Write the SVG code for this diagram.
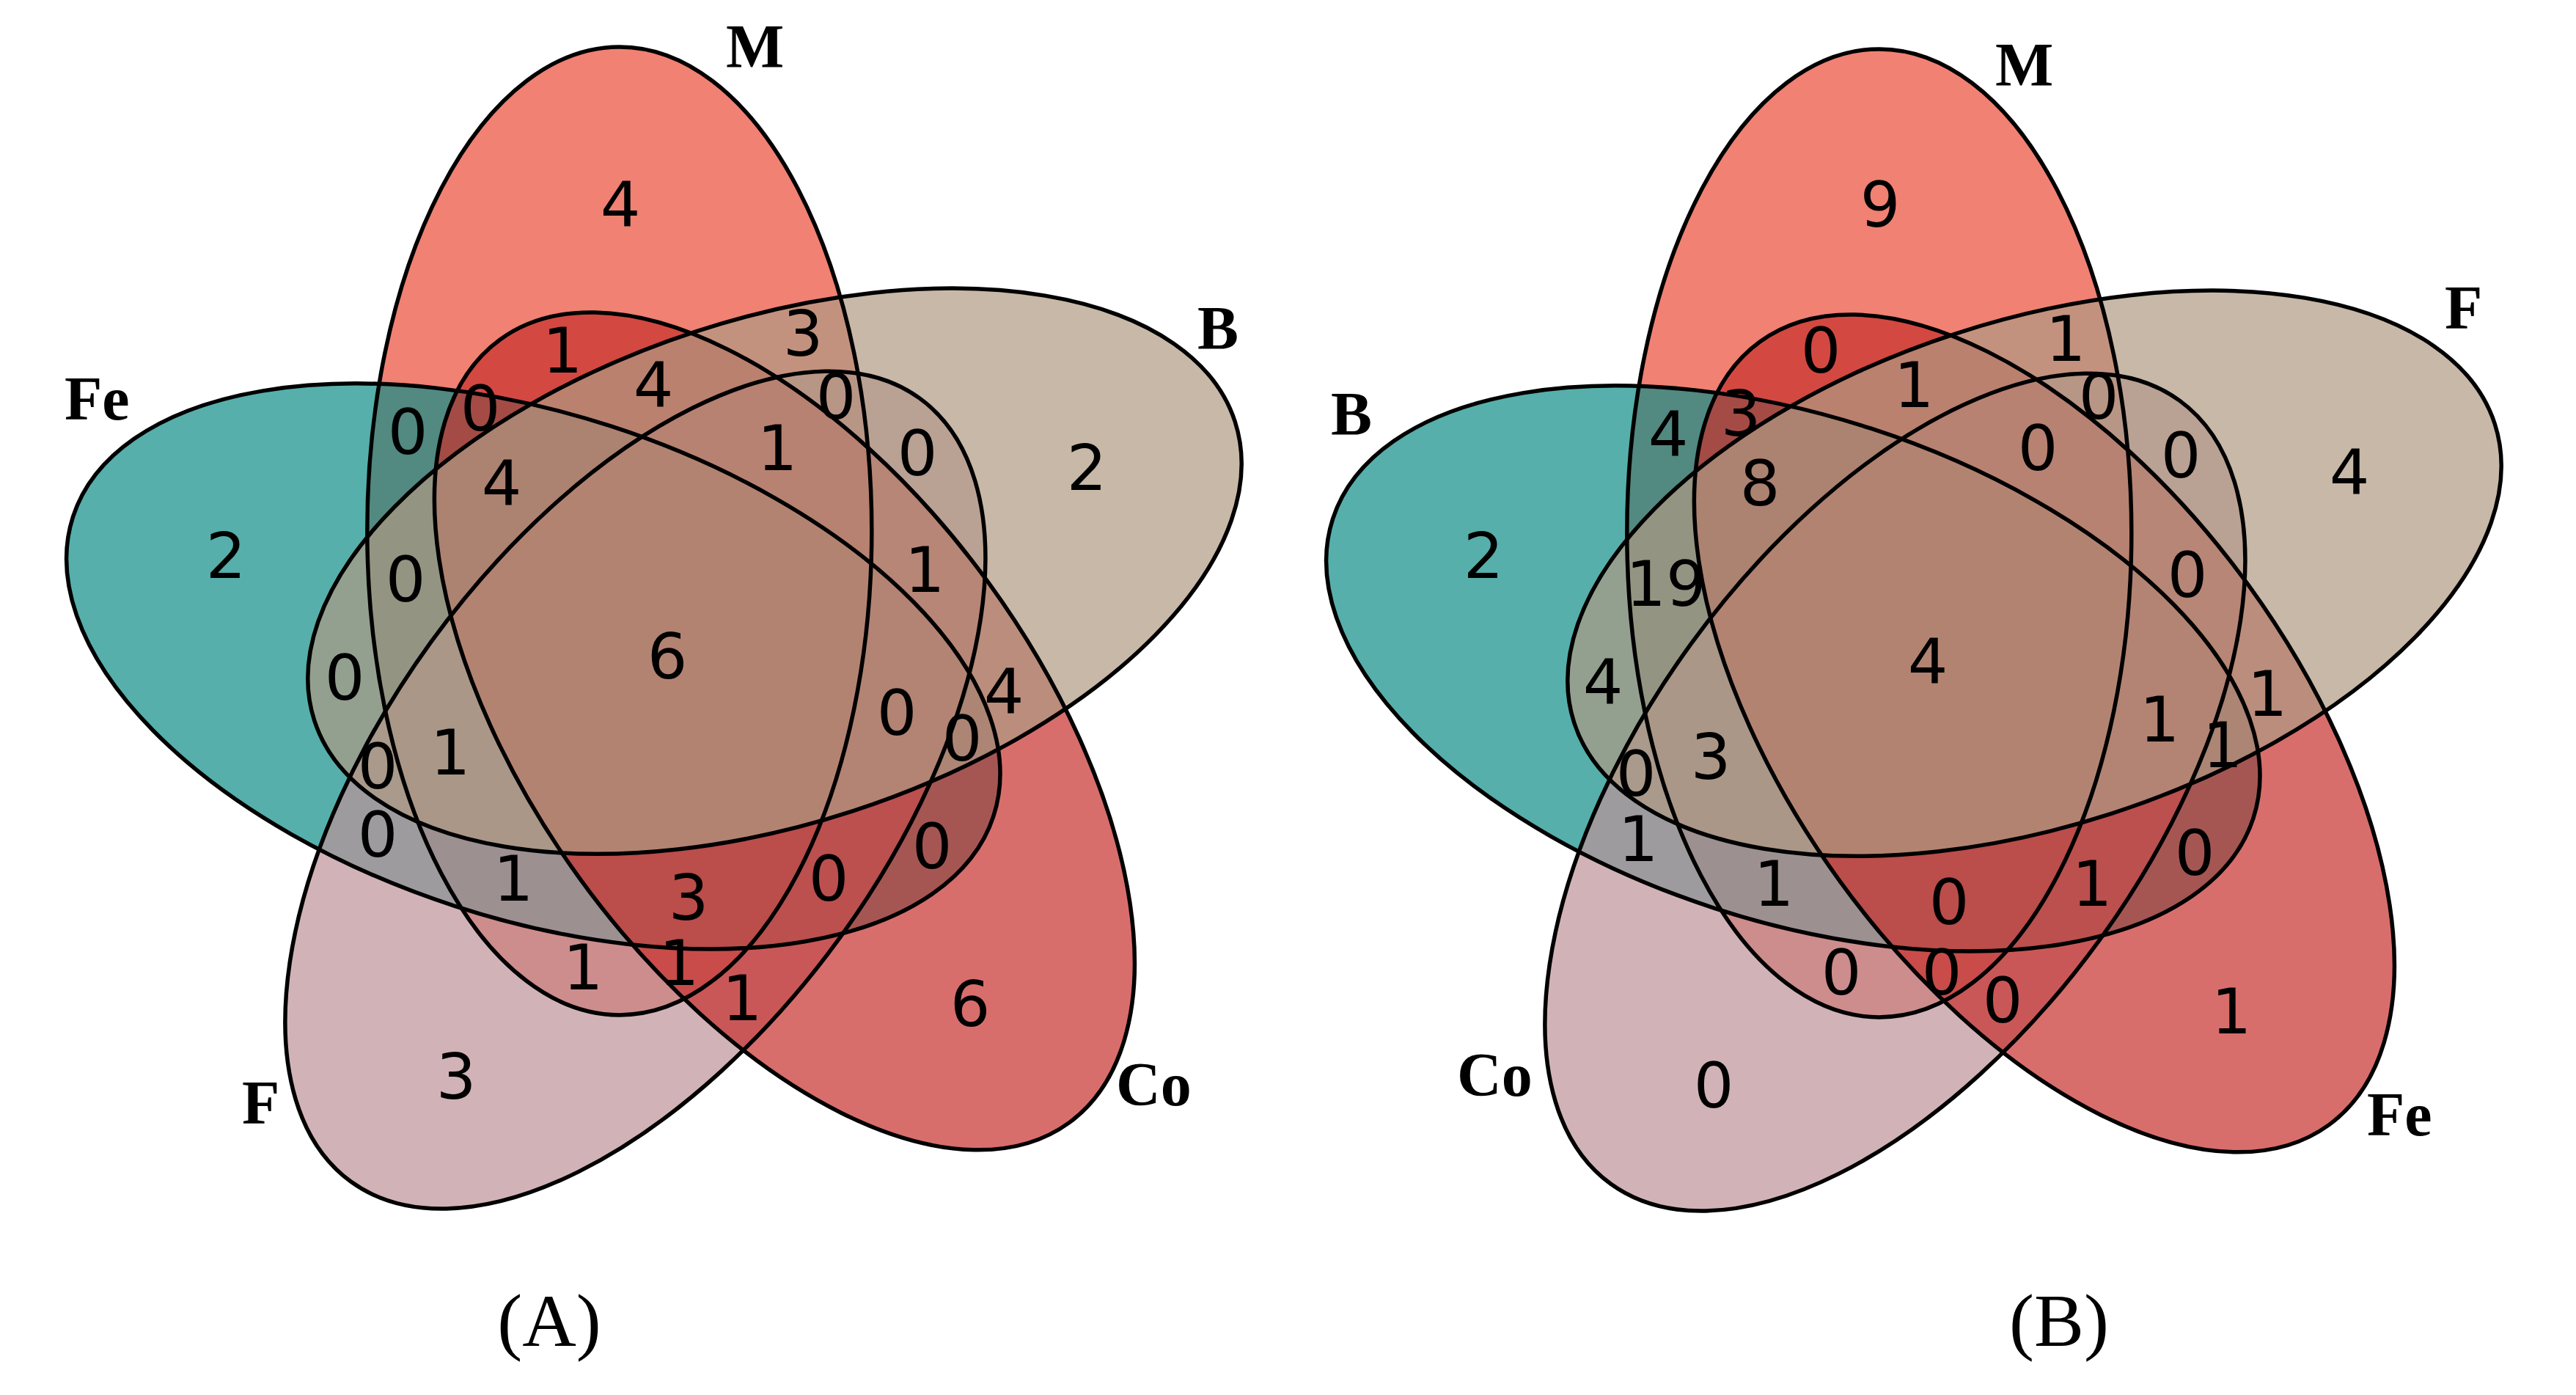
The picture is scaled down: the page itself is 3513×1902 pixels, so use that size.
<svg xmlns="http://www.w3.org/2000/svg" width="3513" height="1902" viewBox="0 0 3513 1902">
<style>
.f{fill-opacity:0.7;stroke:none}
.cT{fill:#EA4C38}.cL{fill:#0E8D87}.cBL{fill:#BD9398}.cBR{fill:#C7302D}.cR{fill:#AF9A83}
.o{fill:none;stroke:#000;stroke-width:5.5}
.n{font-family:"DejaVu Sans","Liberation Sans",sans-serif;font-size:86px;text-anchor:middle;fill:#000}
.l{font-family:"Liberation Serif","Times New Roman",serif;font-weight:bold;font-size:84px;fill:#000}
.cap{font-family:"Liberation Serif","Times New Roman",serif;font-size:102px;text-anchor:middle;fill:#000}
</style>
<defs>
<ellipse id="eT" cx="844.8" cy="723.9" rx="344" ry="660"/>
<ellipse id="eR" cx="1056.5" cy="778.7" rx="344" ry="660" transform="rotate(72 1056.5 778.7)"/>
<ellipse id="eBR" cx="1069.9" cy="996.9" rx="344" ry="660" transform="rotate(144 1069.9 996.9)"/>
<ellipse id="eBL" cx="866.4" cy="1077.1" rx="344" ry="660" transform="rotate(216 866.4 1077.1)"/>
<ellipse id="eL" cx="727.3" cy="908.4" rx="344" ry="660" transform="rotate(288 727.3 908.4)"/>
</defs>
<rect width="3513" height="1902" fill="#fff"/>

<g id="panelA">
<g id="A-M"><use href="#eT" class="f cT"/></g>
<g id="A-Fe"><use href="#eL" class="f cL"/></g>
<g id="A-F"><use href="#eBL" class="f cBL"/></g>
<g id="A-Co"><use href="#eBR" class="f cBR"/></g>
<g id="A-B"><use href="#eR" class="f cR"/></g>
<g id="A-outlines">
<use href="#eT" class="o"/><use href="#eL" class="o"/><use href="#eBL" class="o"/><use href="#eBR" class="o"/><use href="#eR" class="o"/>
</g>
<g id="A-setlabels" class="l">
<text x="990" y="92">M</text>
<text x="88" y="572">Fe</text>
<text x="1633" y="476">B</text>
<text x="1522" y="1507">Co</text>
<text x="330" y="1532">F</text>
</g>
<g id="A-counts" class="n">
<text x="846" y="309">4</text>
<text x="308" y="788">2</text>
<text x="1482" y="668">2</text>
<text x="1323" y="1399">6</text>
<text x="622" y="1498">3</text>
<text x="767" y="508">1</text>
<text x="891" y="555">4</text>
<text x="1095" y="485">3</text>
<text x="655" y="587">0</text>
<text x="556" y="619">0</text>
<text x="1140" y="571">0</text>
<text x="684" y="689">4</text>
<text x="1060" y="641">1</text>
<text x="1251" y="648">0</text>
<text x="553" y="820">0</text>
<text x="1261" y="807">1</text>
<text x="910" y="925">6</text>
<text x="470" y="954">0</text>
<text x="1369" y="973">4</text>
<text x="1223" y="1002">0</text>
<text x="1312" y="1037">0</text>
<text x="614" y="1056">1</text>
<text x="515" y="1075">0</text>
<text x="515" y="1168">0</text>
<text x="700" y="1228">1</text>
<text x="1271" y="1184">0</text>
<text x="939" y="1254">3</text>
<text x="1130" y="1228">0</text>
<text x="795" y="1349">1</text>
<text x="926" y="1343">1</text>
<text x="1012" y="1391">1</text>
</g>
</g>

<g id="panelB">
<g transform="translate(1718 3)">
<g id="B-M"><use href="#eT" class="f cT"/></g>
<g id="B-B"><use href="#eL" class="f cL"/></g>
<g id="B-Co"><use href="#eBL" class="f cBL"/></g>
<g id="B-Fe"><use href="#eBR" class="f cBR"/></g>
<g id="B-F"><use href="#eR" class="f cR"/></g>
<g id="B-outlines">
<use href="#eT" class="o"/><use href="#eL" class="o"/><use href="#eBL" class="o"/><use href="#eBR" class="o"/><use href="#eR" class="o"/>
</g>
</g>
<g id="B-setlabels" class="l">
<text x="2721" y="117">M</text>
<text x="1815" y="593">B</text>
<text x="3334" y="448">F</text>
<text x="1987" y="1494">Co</text>
<text x="3228" y="1548">Fe</text>
</g>
<g id="B-counts" class="n">
<text x="2564" y="309">9</text>
<text x="2023" y="788">2</text>
<text x="3204" y="674">4</text>
<text x="3043" y="1409">1</text>
<text x="2337" y="1510">0</text>
<text x="2483" y="508">0</text>
<text x="2817" y="492">1</text>
<text x="2610" y="555">1</text>
<text x="2862" y="571">0</text>
<text x="2374" y="594">3</text>
<text x="2275" y="622">4</text>
<text x="2779" y="641">0</text>
<text x="2974" y="651">0</text>
<text x="2400" y="689">8</text>
<text x="2272" y="826">19</text>
<text x="2983" y="814">0</text>
<text x="2629" y="932">4</text>
<text x="2186" y="960">4</text>
<text x="2945" y="1011">1</text>
<text x="3092" y="976">1</text>
<text x="3031" y="1046">1</text>
<text x="2231" y="1085">0</text>
<text x="2333" y="1062">3</text>
<text x="2234" y="1174">1</text>
<text x="2419" y="1235">1</text>
<text x="2658" y="1260">0</text>
<text x="2853" y="1235">1</text>
<text x="2993" y="1193">0</text>
<text x="2511" y="1356">0</text>
<text x="2648" y="1356">0</text>
<text x="2731" y="1394">0</text>
</g>
</g>

<g id="captions" class="cap">
<text x="749" y="1835">(A)</text>
<text x="2808" y="1835">(B)</text>
</g>
</svg>
